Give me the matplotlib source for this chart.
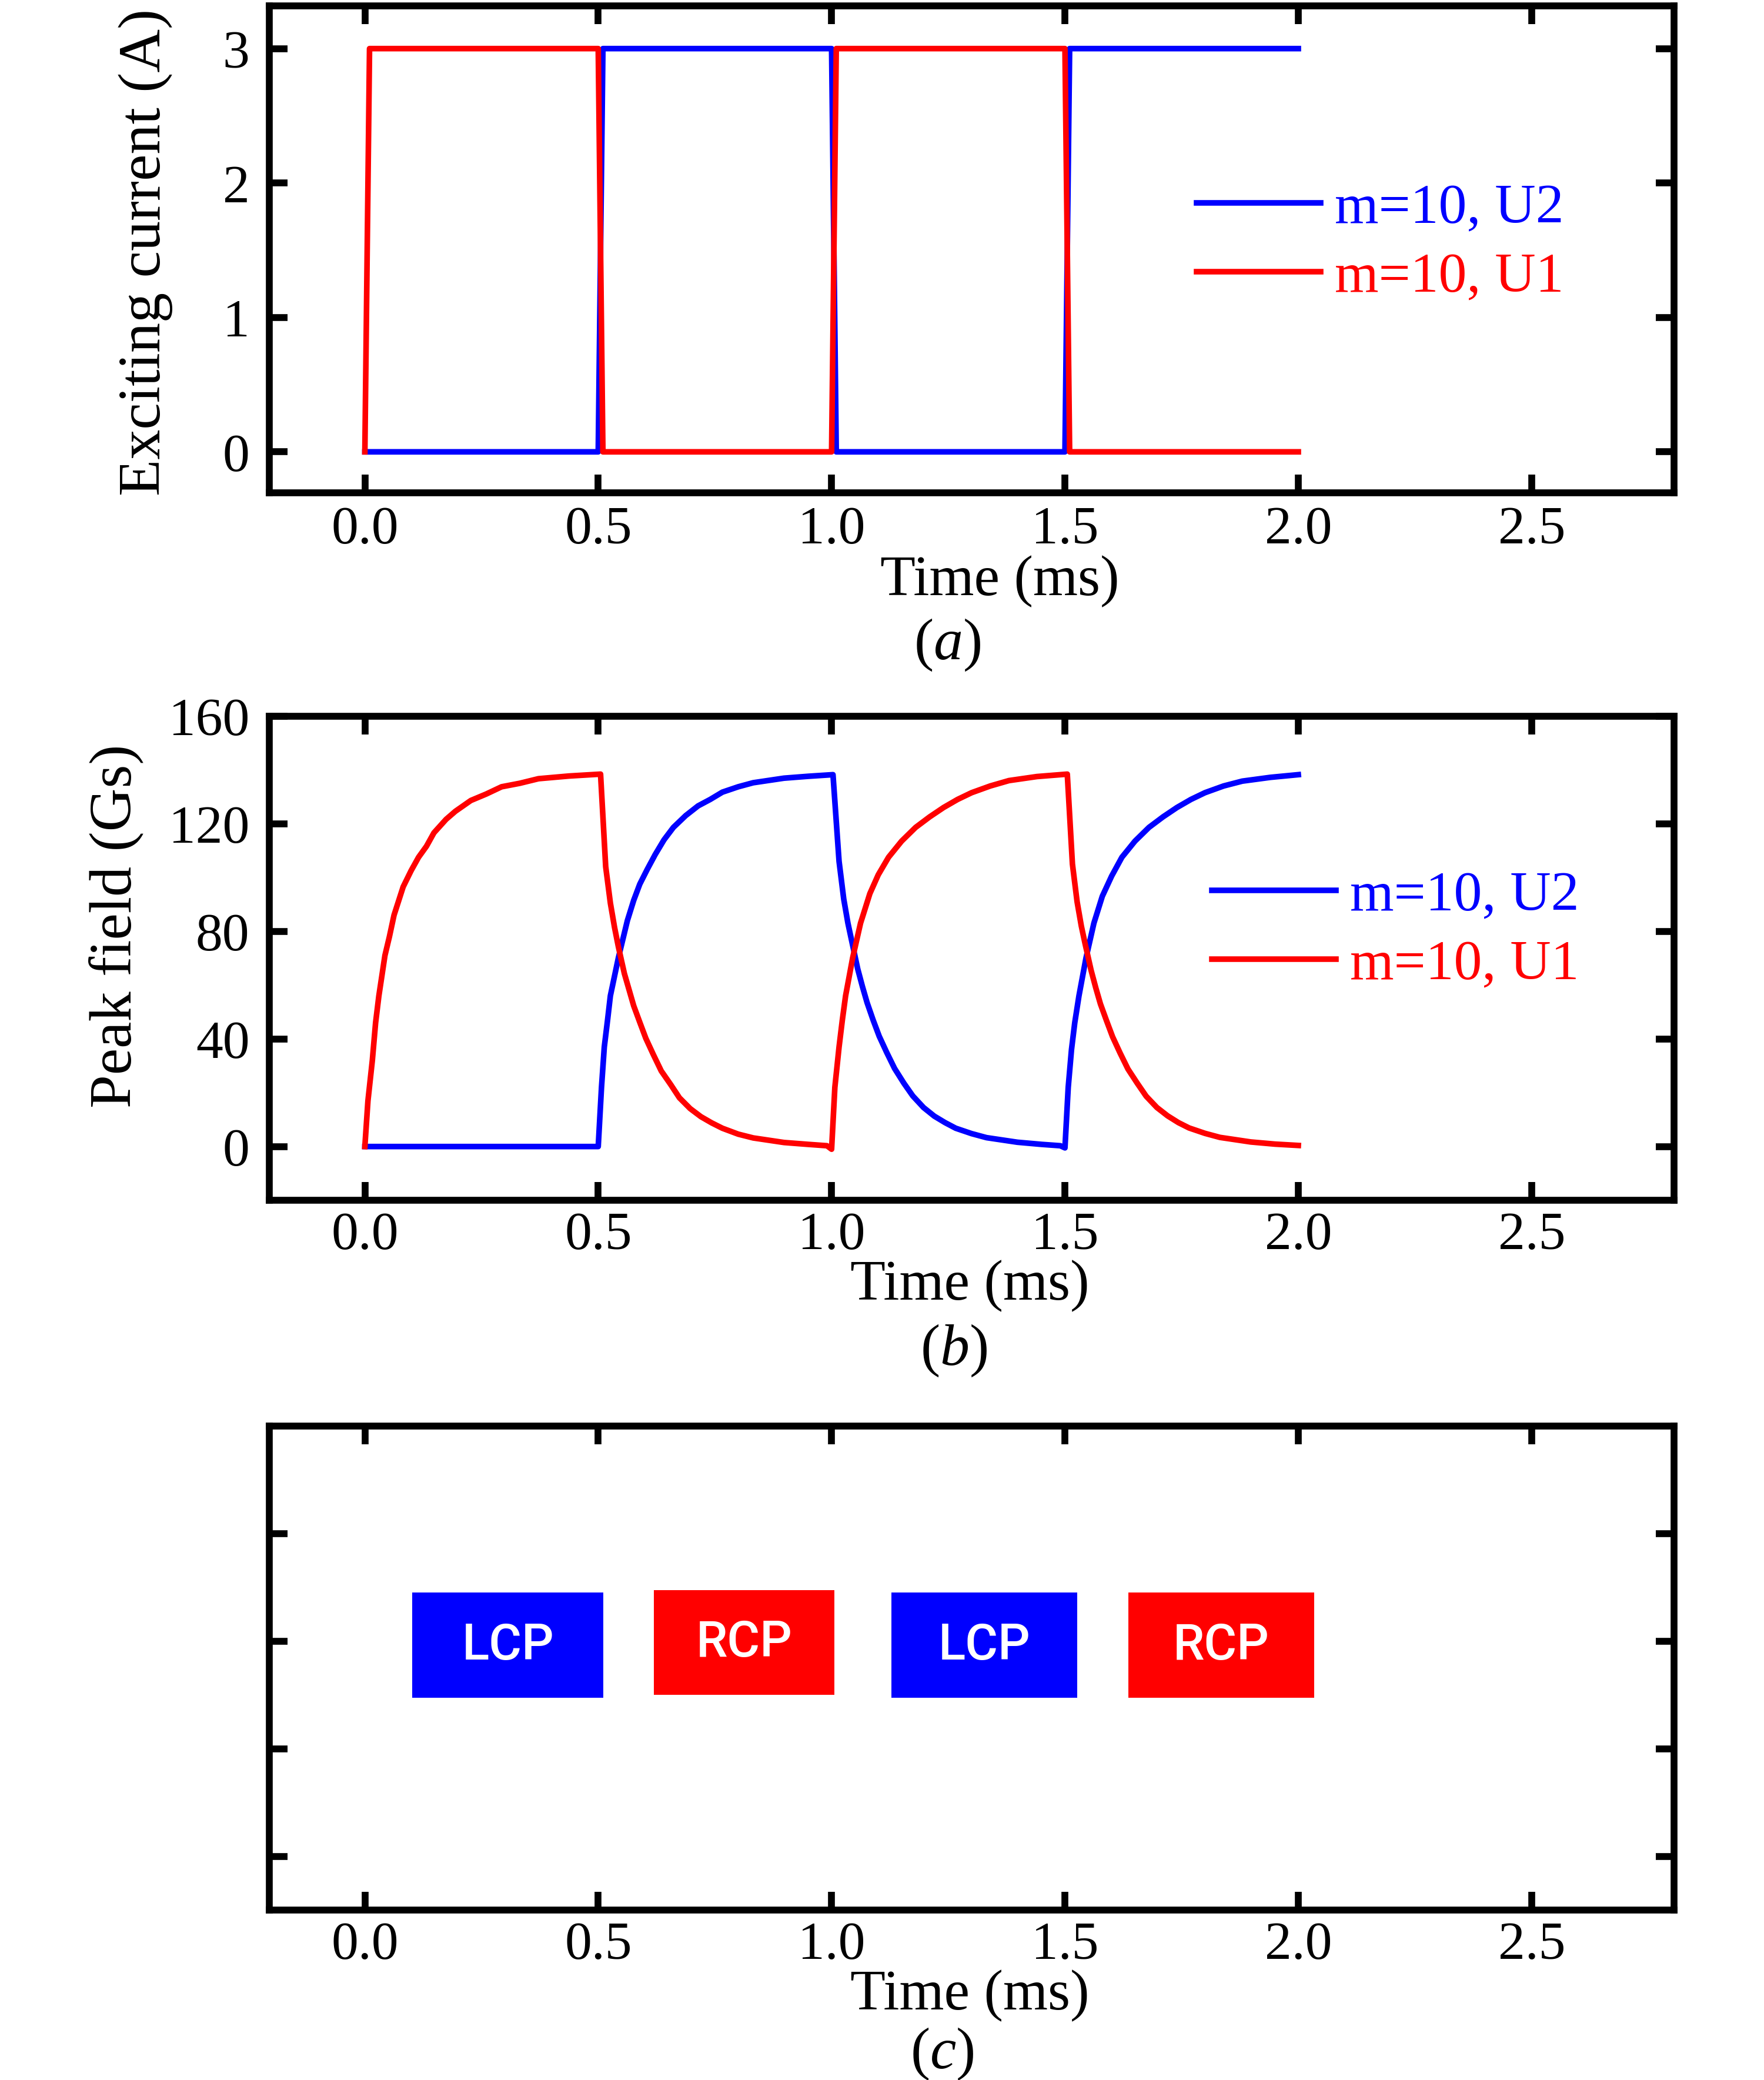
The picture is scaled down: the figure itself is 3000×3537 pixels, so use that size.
import matplotlib
matplotlib.use("Agg")
import matplotlib.pyplot as plt

plt.rcParams['font.family'] = ['Liberation Serif', 'DejaVu Serif']
plt.rcParams['mathtext.fontset'] = 'custom'
plt.rcParams['mathtext.rm'] = 'Liberation Serif'
plt.rcParams['mathtext.it'] = 'Liberation Serif:italic'

# ---------------- data ----------------
# (a) exciting current (A)
t_a = [0.0, 0.01, 0.50, 0.51, 1.00, 1.01, 1.50, 1.51, 2.00]
cur_u2 = [0, 0, 0, 3, 3, 0, 0, 3, 3]
cur_u1 = [0, 3, 3, 0, 0, 3, 3, 0, 0]

# (b) peak field (Gs)
t_b_u1 = [0.0, 0.0066, 0.016, 0.023, 0.030, 0.043, 0.0526, 0.0625, 0.082, 0.099, 0.115, 0.132, 0.148,
          0.174, 0.194, 0.227, 0.26, 0.293, 0.332, 0.372, 0.4375, 0.505,
          0.516, 0.526, 0.535, 0.543, 0.556, 0.566, 0.576, 0.589, 0.602, 0.618, 0.635, 0.655, 0.674,
          0.697, 0.72, 0.743, 0.766, 0.8, 0.832, 0.898, 0.95, 0.99, 1.0,
          1.007, 1.016, 1.023, 1.03, 1.045, 1.062, 1.082, 1.1, 1.122, 1.15, 1.18, 1.21, 1.24, 1.27,
          1.3, 1.34, 1.38, 1.44, 1.505,
          1.516, 1.526, 1.535, 1.543, 1.556, 1.566, 1.576, 1.589, 1.602, 1.618, 1.635, 1.655, 1.674,
          1.697, 1.72, 1.743, 1.766, 1.8, 1.832, 1.898, 1.95, 2.0]
field_u1 = [0, 17, 32, 46, 56, 71, 78, 86, 96.5, 102.5, 107.5, 111.6, 116.6,
            121.6, 124.6, 128.6, 131, 133.7, 135, 136.7, 137.7, 138.4,
            104, 90.5, 81.4, 74.4, 64.3, 58.3, 52.3, 46.2, 40.2, 34.2, 28.1, 23.1, 18.1,
            14.1, 11.1, 8.8, 6.8, 4.6, 3.2, 1.5, 0.8, 0.3, -1.0,
            22, 37, 47, 56, 70, 83, 94, 101, 107.5, 113.5, 118.6, 122.5, 126, 129,
            131.5, 134, 136, 137.5, 138.4,
            105, 91, 82, 75.5, 65.5, 59, 53, 46.8, 40.8, 34.8, 28.8, 23.5, 18.7,
            14.5, 11.4, 8.9, 6.9, 4.9, 3.4, 1.7, 0.9, 0.4]

t_b_u2 = [0.0, 0.5, 0.507, 0.513, 0.52, 0.526, 0.543, 0.5625, 0.576, 0.589, 0.605, 0.622, 0.641, 0.661,
          0.6875, 0.714, 0.74, 0.766, 0.8, 0.832, 0.898, 0.95, 1.003,
          1.016, 1.026, 1.035, 1.043, 1.056, 1.066, 1.076, 1.089, 1.102, 1.118, 1.135, 1.155, 1.174,
          1.197, 1.22, 1.243, 1.266, 1.3, 1.332, 1.398, 1.45, 1.49, 1.5,
          1.507, 1.514, 1.521, 1.53, 1.545, 1.562, 1.58, 1.6, 1.622, 1.65, 1.68, 1.71, 1.74, 1.77,
          1.8, 1.84, 1.88, 1.94, 2.0]
field_u2 = [0, 0, 22, 37, 47, 56, 70, 84, 91.5, 97.5, 103, 108.5, 114, 118.6,
            123, 126.6, 129, 131.7, 133.7, 135.2, 136.9, 137.6, 138.2,
            106, 92, 83, 76.5, 66, 59.5, 53.5, 47, 41, 35, 29, 23.5, 18.8,
            14.5, 11.3, 8.9, 6.8, 4.8, 3.3, 1.6, 0.8, 0.3, -0.5,
            22, 36, 46, 56, 70, 83, 93, 100.5, 107.5, 113.5, 118.6, 122.5, 126, 129,
            131.5, 134, 135.8, 137.2, 138.2]

series_labels = ['m=10, U2', 'm=10, U1']
series_colors = ['#0000ff', '#ff0000']

# (c) polarisation blocks
box_labels = ['LCP', 'RCP', 'LCP', 'RCP']
box_start = [0.102, 0.619, 1.128, 1.636]
box_end = [0.511, 1.006, 1.526, 2.034]
box_low = [59, 60, 59, 59]
box_high = [98, 99, 98, 98]
box_colors = ['#0000ff', '#ff0000', '#0000ff', '#ff0000']

x_ticks = [0.0, 0.5, 1.0, 1.5, 2.0, 2.5]
x_ticklabels = ['0.0', '0.5', '1.0', '1.5', '2.0', '2.5']

# ---------------- figure ----------------
fig = plt.figure(figsize=(10, 11.793), dpi=300)
L, W = 0.1526, 0.7964
ax_a = fig.add_axes([L, 0.7628, W, 0.2340])
ax_b = fig.add_axes([L, 0.4228, W, 0.2328])
ax_c = fig.add_axes([L, 0.0816, W, 0.2328])

TICK_FS = 22
LAB_FS = 23.5
LW = 2.3


def style(ax, xpad):
    for s in ax.spines.values():
        s.set_linewidth(2.8)
    ax.set_xlim(-0.205, 2.805)
    ax.set_xticks(x_ticks)
    ax.set_xticklabels(x_ticklabels)
    ax.tick_params(axis='both', which='major', direction='in', length=7.5, width=2.8,
                   top=True, right=True, labelsize=TICK_FS)
    ax.tick_params(axis='x', pad=xpad)
    ax.tick_params(axis='y', pad=8)


def xlabel(ax, x, y=-0.176):
    ax.set_xlabel('Time (ms)', fontsize=LAB_FS)
    ax.xaxis.set_label_coords(x, y)
    ax.xaxis.label.set_va('center')


leg_kw = dict(loc='center left', frameon=False, fontsize=23, handlelength=2.2,
              handletextpad=0.25, labelspacing=0.32, labelcolor='linecolor', borderpad=0.2)

# (a)
ax_a.plot(t_a, cur_u2, color=series_colors[0], lw=LW, label=series_labels[0])
ax_a.plot(t_a, cur_u1, color=series_colors[1], lw=LW, label=series_labels[1])
style(ax_a, 5.0)
ax_a.set_ylim(-0.306, 3.316)
ax_a.set_yticks([0, 1, 2, 3])
ax_a.set_ylabel('Exciting current (A)', fontsize=24.5)
ax_a.yaxis.set_label_coords(-0.088, 0.496)
ax_a.yaxis.label.set_va('center')
xlabel(ax_a, 0.520, -0.181)
ax_a.legend(bbox_to_anchor=(0.632, 0.513), **leg_kw)

# (b)
ax_b.plot(t_b_u2, field_u2, color=series_colors[0], lw=LW, label=series_labels[0])
ax_b.plot(t_b_u1, field_u1, color=series_colors[1], lw=LW, label=series_labels[1])
style(ax_b, 4.5)
ax_b.set_ylim(-20, 160)
ax_b.set_yticks([0, 40, 80, 120, 160])
ax_b.set_ylabel('Peak field (Gs)', fontsize=24.5)
ax_b.yaxis.set_label_coords(-0.109, 0.567)
ax_b.yaxis.label.set_va('center')
xlabel(ax_b, 0.4986)
ax_b.legend(bbox_to_anchor=(0.643, 0.557), **leg_kw)

# (c)
style(ax_c, 4.5)
ax_c.set_ylim(-20, 160)
ax_c.set_yticks([0, 40, 80, 120])
ax_c.set_yticklabels([])
widths = [e - s for s, e in zip(box_start, box_end)]
heights = [h - l for l, h in zip(box_low, box_high)]
ax_c.bar(box_start, heights, width=widths, bottom=box_low, align='edge', color=box_colors,
         edgecolor='none')
for s, e, l, h, lab in zip(box_start, box_end, box_low, box_high, box_labels):
    ax_c.text((s + e) / 2, (l + h) / 2, lab, color='white', ha='center', va='center',
              fontsize=20.5, family=['Roboto', 'DejaVu Sans'], fontweight='medium')
xlabel(ax_c, 0.4986)

# panel tags
fig.text(0.537, 0.690, r'($\mathit{a}$)', ha='center', va='center', fontsize=24)
fig.text(0.5406, 0.3508, r'($\mathit{b}$)', ha='center', va='center', fontsize=24)
fig.text(0.534, 0.0128, r'($\mathit{c}$)', ha='center', va='center', fontsize=24)

fig.savefig('out.png', dpi=300)
